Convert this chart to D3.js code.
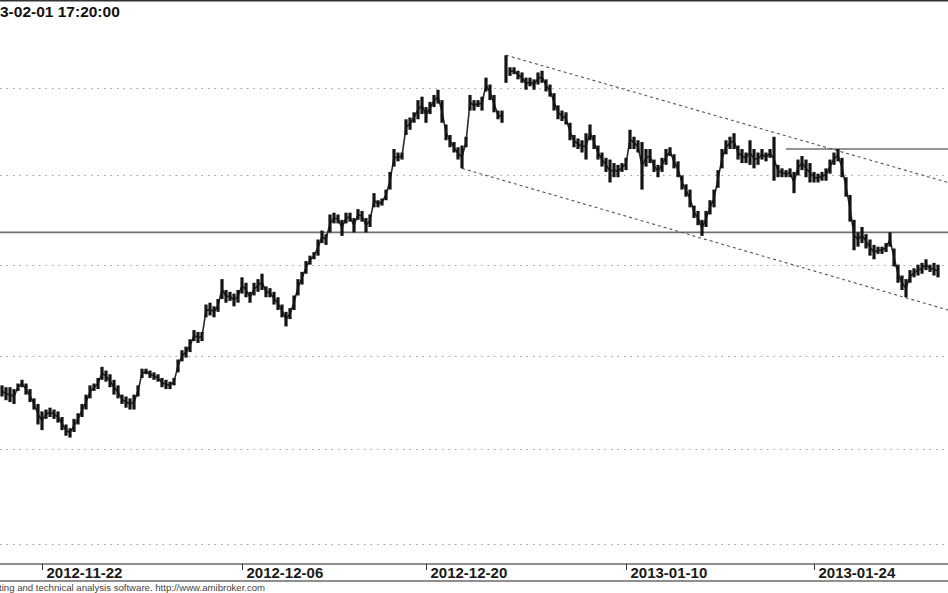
<!DOCTYPE html>
<html><head><meta charset="utf-8">
<script src="https://cdn.jsdelivr.net/npm/d3@7"></script>
<style>html,body{margin:0;padding:0;background:#fff;overflow:hidden}svg{display:block}</style>
</head><body>
<script>
// ---- data ----
const titleText = "3-02-01 17:20:00";
const footerText = "ting and technical analysis software. http://www.amibroker.com";
const gridValues = [2250, 2300, 2350, 2400, 2450, 2500];
const tickDates = ["2012-11-22", "2012-12-06", "2012-12-20", "2013-01-10", "2013-01-24"];
const tickBars = [10, 60, 106, 156, 203];
const hi = [
2334,2333,2333,2332,2335,2337,2335,2332,2327,2324,
2320,2321,2322,2321,2320,2317,2313,2311,2316,2319,
2324,2329,2334,2335,2338,2344,2342,2340,2337,2334,
2329,2328,2327,2329,2334,2343,2343,2342,2341,2340,
2338,2337,2336,2338,2348,2353,2355,2359,2364,2363,
2363,2378,2379,2377,2381,2392,2386,2385,2384,2386,
2393,2390,2385,2390,2392,2395,2388,2387,2385,2382,
2378,2374,2376,2383,2392,2396,2402,2405,2407,2414,
2419,2417,2428,2429,2428,2425,2429,2429,2426,2431,
2430,2426,2428,2440,2436,2437,2442,2452,2465,2463,
2463,2482,2483,2486,2493,2495,2489,2492,2496,2499,
2493,2479,2473,2469,2466,2467,2472,2496,2493,2493,
2495,2506,2502,2496,2487,2487,2519,2512,2512,2510,
2509,2506,2506,2505,2509,2510,2505,2502,2497,2490,
2487,2486,2480,2473,2471,2470,2474,2479,2473,2467,
2463,2460,2459,2457,2456,2457,2460,2476,2472,2470,
2469,2465,2465,2459,2456,2460,2465,2466,2462,2458,
2450,2445,2442,2433,2430,2425,2430,2436,2442,2453,
2465,2470,2472,2474,2467,2465,2463,2470,2465,2463,
2465,2463,2465,2472,2456,2454,2453,2454,2452,2459,
2461,2459,2457,2452,2451,2452,2454,2459,2463,2465,
2460,2449,2439,2425,2418,2421,2417,2414,2411,2410,
2410,2412,2418,2409,2400,2394,2392,2397,2398,2400,
2401,2403,2400,2401,2400];
const lo = [
2328,2326,2325,2324,2331,2333,2329,2325,2321,2313,
2310,2316,2317,2316,2314,2310,2307,2306,2309,2313,
2317,2321,2327,2331,2332,2337,2336,2333,2329,2327,
2324,2322,2321,2321,2328,2338,2340,2338,2337,2336,
2333,2332,2332,2334,2341,2347,2349,2352,2358,2357,
2358,2371,2372,2371,2374,2381,2379,2380,2377,2379,
2384,2382,2379,2383,2385,2386,2382,2382,2378,2375,
2371,2366,2370,2375,2383,2389,2395,2400,2403,2405,
2412,2411,2418,2423,2423,2416,2423,2424,2418,2425,
2424,2418,2421,2432,2432,2433,2436,2442,2455,2458,
2459,2473,2476,2480,2482,2485,2480,2485,2489,2491,
2480,2470,2466,2463,2459,2454,2466,2487,2487,2489,
2487,2498,2493,2486,2482,2480,2503,2507,2508,2505,
2503,2499,2501,2499,2502,2503,2498,2495,2487,2482,
2481,2479,2470,2466,2465,2463,2459,2470,2465,2459,
2455,2452,2446,2449,2449,2452,2453,2465,2465,2463,
2442,2455,2457,2452,2449,2452,2456,2461,2454,2449,
2442,2438,2432,2426,2422,2416,2421,2428,2432,2443,
2454,2462,2465,2465,2459,2457,2457,2456,2454,2456,
2459,2458,2460,2447,2449,2449,2449,2449,2440,2450,
2453,2449,2446,2446,2446,2447,2447,2451,2456,2458,
2449,2438,2424,2408,2410,2412,2409,2405,2403,2406,
2406,2407,2410,2399,2390,2386,2382,2390,2393,2394,
2395,2397,2396,2394,2393];
const upperChannel = [[126, 2519], [236.5, 2446]];
const lowerChannel = [[115, 2454], [236.5, 2375]];
const supportLevel = 2418;
const resistanceLevel = 2465;
const resistanceStartBar = 196;
const sessionBreakBar = 126; // Christmas gap between bars 125 and 126

// ---- drawing ----
const W = 948, H = 593;
const svg = d3.select("body").append("svg").attr("width", W).attr("height", H);
const x = d3.scaleLinear().domain([0, 234]).range([2, 938]);
const y = d3.scaleLog().domain([2250, 2500]).range([544, 88]);

// top border
svg.append("line").attr("x1", 0).attr("x2", W).attr("y1", 0.5).attr("y2", 0.5)
  .attr("stroke", "#333").attr("stroke-width", 2);

// title
svg.append("text").attr("x", 0).attr("y", 17).text(titleText)
  .attr("font-family", "Liberation Sans, Arial, sans-serif").attr("font-weight", "bold")
  .attr("font-size", 15.5).attr("fill", "#111");

// dotted grid
svg.append("g").selectAll("line").data(gridValues).join("line")
  .attr("x1", 0).attr("x2", W)
  .attr("y1", d => Math.round(y(d)) + 0.5).attr("y2", d => Math.round(y(d)) + 0.5)
  .attr("stroke", "#9a9a9a").attr("stroke-width", 1).attr("stroke-dasharray", "1.5,5");

// horizontal levels
svg.append("line").attr("x1", 0).attr("x2", W)
  .attr("y1", y(supportLevel)).attr("y2", y(supportLevel))
  .attr("stroke", "#707070").attr("stroke-width", 1.6);
svg.append("line").attr("x1", x(resistanceStartBar)).attr("x2", W)
  .attr("y1", y(resistanceLevel)).attr("y2", y(resistanceLevel))
  .attr("stroke", "#707070").attr("stroke-width", 1.6);

// channel lines
[upperChannel, lowerChannel].forEach(c => {
  svg.append("line")
    .attr("x1", x(c[0][0])).attr("y1", y(c[0][1]))
    .attr("x2", x(c[1][0])).attr("y2", y(c[1][1]))
    .attr("stroke", "#555").attr("stroke-width", 1.1).attr("stroke-dasharray", "3,3");
});

// connecting stroke through bar midpoints (dense intraday bars look continuous)
const idx = d3.range(hi.length);
const mid = i => Math.sqrt(hi[i] * lo[i]);
const line = d3.line().defined(i => i !== sessionBreakBar).x(i => x(i)).y(i => y(mid(i)));
svg.append("path").datum(idx).attr("d", line)
  .attr("fill", "none").attr("stroke", "#2a2a2a").attr("stroke-width", 1.6);

// price bars
svg.append("g").selectAll("rect").data(idx).join("rect")
  .attr("x", i => x(i) - 1.6).attr("width", 3.2)
  .attr("y", i => y(hi[i])).attr("height", i => Math.max(1, y(lo[i]) - y(hi[i])))
  .attr("fill", "#141414");

// x axis box
const axTop = 564, axBot = 581;
svg.append("line").attr("x1", 0).attr("x2", W).attr("y1", axTop).attr("y2", axTop)
  .attr("stroke", "#6a6a6a").attr("stroke-width", 1.5);
svg.append("line").attr("x1", 0).attr("x2", W).attr("y1", axBot).attr("y2", axBot)
  .attr("stroke", "#6a6a6a").attr("stroke-width", 1.5);
const ax = svg.append("g");
tickBars.forEach((b, k) => {
  const px = Math.round(x(b)) + 0.5;
  ax.append("line").attr("x1", px).attr("x2", px).attr("y1", axTop).attr("y2", axTop + 6)
    .attr("stroke", "#333").attr("stroke-width", 1);
  ax.append("text").attr("x", px + 4).attr("y", 578).text(tickDates[k])
    .attr("font-family", "Liberation Sans, Arial, sans-serif").attr("font-weight", "bold")
    .attr("font-size", 15).attr("fill", "#1a1a1a");
});

// footer
svg.append("text").attr("x", -1).attr("y", 591).text(footerText)
  .attr("font-family", "Liberation Sans, Arial, sans-serif")
  .attr("font-size", 9.6).attr("fill", "#444");
</script>
</body></html>
